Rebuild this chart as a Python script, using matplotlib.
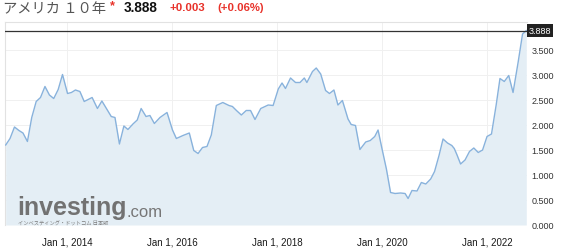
import matplotlib
matplotlib.use("Agg")
import matplotlib.pyplot as plt
import matplotlib.dates as mdates
import numpy as np
import pandas as pd

# ---- data ----
dates = [
    "2012-11-01", "2012-12-01", "2013-01-01", "2013-02-01", "2013-03-01", "2013-04-01",
    "2013-05-01", "2013-06-01", "2013-07-01", "2013-08-01", "2013-09-01", "2013-10-01",
    "2013-11-01", "2013-12-01", "2014-01-05", "2014-02-01", "2014-03-01", "2014-04-01",
    "2014-05-01", "2014-06-25", "2014-08-01", "2014-09-01", "2014-11-05", "2014-12-01",
    "2015-01-01", "2015-02-01", "2015-03-01", "2015-04-05", "2015-05-05", "2015-06-01",
    "2015-07-05", "2015-08-01", "2015-09-01", "2015-10-10", "2015-11-28", "2016-01-05",
    "2016-02-01", "2016-03-18", "2016-05-01", "2016-06-01", "2016-07-01", "2016-08-01",
    "2016-09-01", "2016-10-01", "2016-11-05", "2016-12-20", "2017-02-01", "2017-02-25",
    "2017-03-25", "2017-04-28", "2017-06-01", "2017-07-01", "2017-08-01", "2017-09-10",
    "2017-11-01", "2017-12-05", "2018-01-10", "2018-02-05", "2018-03-01", "2018-04-05",
    "2018-05-10", "2018-06-10", "2018-07-10", "2018-07-28", "2018-09-05", "2018-10-01",
    "2018-11-01", "2018-12-05", "2019-01-01", "2019-02-01", "2019-03-01", "2019-04-01",
    "2019-05-10", "2019-06-01", "2019-07-01", "2019-08-01", "2019-09-10", "2019-10-12",
    "2019-11-12", "2019-12-05", "2020-01-01", "2020-02-01", "2020-03-01", "2020-04-01",
    "2020-05-10", "2020-06-10", "2020-07-01", "2020-07-28", "2020-09-01", "2020-10-01",
    "2020-11-01", "2020-12-05", "2021-01-01", "2021-02-01", "2021-03-01", "2021-04-01",
    "2021-05-01", "2021-05-18", "2021-06-05", "2021-07-01", "2021-08-01", "2021-09-01",
    "2021-10-01", "2021-11-01", "2021-12-01", "2022-01-01", "2022-02-01", "2022-03-05",
    "2022-04-01", "2022-05-01", "2022-06-01", "2022-07-01", "2022-08-05", "2022-09-05",
    "2022-10-01",
]
yields = [
    1.60, 1.73, 1.96, 1.89, 1.84, 1.67,
    2.15, 2.47, 2.55, 2.77, 2.60, 2.53,
    2.71, 3.01, 2.63, 2.65, 2.70, 2.67,
    2.47, 2.55, 2.33, 2.48, 2.17, 2.15,
    1.62, 1.98, 1.91, 2.02, 2.10, 2.33,
    2.17, 2.19, 2.03, 2.15, 2.25, 1.90,
    1.73, 1.79, 1.84, 1.49, 1.43, 1.55,
    1.57, 1.80, 2.39, 2.45, 2.39, 2.37,
    2.29, 2.20, 2.29, 2.29, 2.11, 2.33,
    2.40, 2.39, 2.72, 2.84, 2.73, 2.94,
    2.85, 2.85, 2.94, 2.85, 3.07, 3.14,
    3.02, 2.69, 2.63, 2.70, 2.40, 2.49,
    2.12, 2.01, 1.99, 1.51, 1.66, 1.69,
    1.77, 1.90, 1.53, 1.12, 0.65, 0.63,
    0.64, 0.63, 0.53, 0.69, 0.68, 0.85,
    0.82, 0.92, 1.07, 1.39, 1.72, 1.64,
    1.59, 1.53, 1.41, 1.22, 1.30, 1.47,
    1.54, 1.45, 1.50, 1.77, 1.82, 2.39,
    2.93, 2.87, 2.99, 2.65, 3.25, 3.82,
    3.888,
]
last_value = 3.888
change = "+0.003"
change_pct = "(+0.06%)"
title = "アメリカ １０年"
y_ticks = [0.0, 0.5, 1.0, 1.5, 2.0, 2.5, 3.0, 3.5]
x_ticks = ["2014-01-01", "2016-01-01", "2018-01-01", "2020-01-01", "2022-01-01"]
x_tick_labels = ["Jan 1, 2014", "Jan 1, 2016", "Jan 1, 2018", "Jan 1, 2020", "Jan 1, 2022"]

# ---- figure ----
W, H = 567, 253
fig = plt.figure(figsize=(W / 100, H / 100), dpi=100)
fig.patch.set_facecolor("white")

L, R, T, B = 5, 527, 23, 226
ax = fig.add_axes([L / W, 1 - B / H, (R - L) / W, (B - T) / H])

x = pd.to_datetime(dates)
line_c = "#88b2dc"
fill_c = "#e4eef5"
ax.fill_between(x, yields, 0, color=fill_c, lw=0, zorder=1)
ax.plot(x, yields, color=line_c, lw=1.0, zorder=3)

ax.set_xlim(pd.Timestamp("2012-10-27"), pd.Timestamp("2022-10-06"))
ax.set_ylim(0, 4.06)

ax.axhline(last_value, color="#333333", lw=0.9, zorder=4)

ax.yaxis.tick_right()
ax.set_yticks(y_ticks)
ax.set_yticklabels([f"{v:.3f}" for v in y_ticks])
ax.set_xticks(pd.to_datetime(x_ticks))
ax.set_xticklabels(x_tick_labels)
ax.tick_params(axis="y", length=0, pad=3, labelsize=6.5, labelcolor="#333333")
ax.tick_params(axis="x", length=0, pad=8, labelsize=7, labelcolor="#1a1a1a")
for lab in ax.get_xticklabels() + ax.get_yticklabels():
    lab.set_fontfamily("Liberation Sans")

ax.grid(True, color="#f0f0f0", lw=0.7, zorder=0)
ax.set_axisbelow(True)
for s in ["right", "bottom"]:
    ax.spines[s].set_visible(False)
for s in ["top", "left"]:
    ax.spines[s].set_color("#e2e2e2")
    ax.spines[s].set_linewidth(0.8)

# current value tag
ax.text(1.003, last_value, f"{last_value:.3f}", transform=ax.get_yaxis_transform(),
        ha="left", va="center", fontsize=6.5, color="white", family="Liberation Sans",
        bbox=dict(boxstyle="square,pad=0.2", fc="#222222", ec="none"), zorder=6, clip_on=False)

# watermark
ax.text(12 / (R - L), 0.03, "investing", transform=ax.transAxes, fontsize=18,
        fontweight="bold", color="#727272", family="Liberation Sans", ha="left", va="bottom", zorder=5)
ax.text(122 / (R - L), 0.03, ".com", transform=ax.transAxes, fontsize=12,
        color="#767676", family="Liberation Sans", ha="left", va="bottom", zorder=5)
ax.text(13 / (R - L), -0.002, "インベスティング・ドットコム 日本版", transform=ax.transAxes,
        fontsize=3.8, color="#7b7b7b", family="Noto Sans CJK JP", ha="left", va="bottom", zorder=5)

# header
def px(xp, yp):
    return xp / W, 1 - yp / H

fig.text(*px(3, 9), title, fontsize=10.3, color="#555555", family="Noto Sans CJK JP",
         ha="left", va="center")
fig.text(*px(110, 6), "*", fontsize=9, color="#e8322a", fontweight="bold",
         family="Liberation Sans", ha="left", va="center")
fig.text(*px(124, 8), f"{last_value:.3f}", fontsize=9.8, color="#111111", fontweight="bold",
         family="Liberation Sans", ha="left", va="center")
fig.text(*px(169, 8), change, fontsize=8.2, color="#e8322a", fontweight="bold",
         family="Liberation Sans", ha="left", va="center")
fig.text(*px(217, 8), change_pct, fontsize=8.2, color="#e8322a", fontweight="bold",
         family="Liberation Sans", ha="left", va="center")

fig.savefig("out.png", dpi=100)
